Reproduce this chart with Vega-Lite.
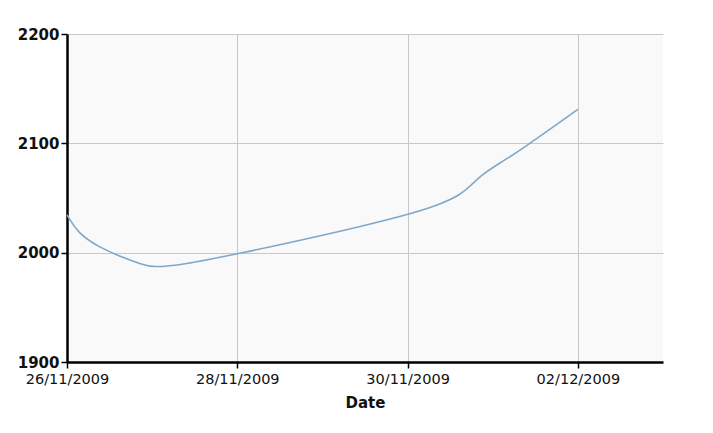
{
  "$schema": "https://vega.github.io/schema/vega-lite/v6.json",
  "autosize": {"type": "none"},
  "padding": {"left": 67, "top": 34, "right": 50, "bottom": 71},
  "width": 596,
  "height": 328,
  "background": "#ffffff",
  "config": {
    "view": {"fill": "#f9f9f9", "stroke": null},
    "font": "DejaVu Sans"
  },
  "data": {
    "values": [
      {"date": "2009-11-26T00:00:00", "value": 2034.5},
      {"date": "2009-11-26T03:00:00", "value": 2018},
      {"date": "2009-11-26T09:00:00", "value": 2005},
      {"date": "2009-11-26T15:00:00", "value": 1996.5},
      {"date": "2009-11-26T21:00:00", "value": 1989.5},
      {"date": "2009-11-27T00:00:00", "value": 1986.5},
      {"date": "2009-11-27T08:00:00", "value": 1988.5},
      {"date": "2009-11-28T00:00:00", "value": 1998.8},
      {"date": "2009-11-29T00:00:00", "value": 2015.5},
      {"date": "2009-11-30T00:00:00", "value": 2034.5},
      {"date": "2009-11-30T09:00:00", "value": 2044},
      {"date": "2009-11-30T15:00:00", "value": 2053},
      {"date": "2009-11-30T18:00:00", "value": 2062},
      {"date": "2009-11-30T21:00:00", "value": 2071.5},
      {"date": "2009-12-01T02:00:00", "value": 2082},
      {"date": "2009-12-01T08:00:00", "value": 2094},
      {"date": "2009-12-02T00:00:00", "value": 2131}
    ]
  },
  "mark": {"type": "line", "color": "#7fa7c9", "strokeWidth": 1.6, "interpolate": "basis"},
  "encoding": {
    "x": {
      "field": "date",
      "type": "temporal",
      "title": "Date",
      "scale": {"domain": [{"year": 2009, "month": 11, "date": 26}, {"year": 2009, "month": 12, "date": 3}]},
      "axis": {
        "values": [
          {"year": 2009, "month": 11, "date": 26},
          {"year": 2009, "month": 11, "date": 28},
          {"year": 2009, "month": 11, "date": 30},
          {"year": 2009, "month": 12, "date": 2}
        ],
        "format": "%d/%m/%Y",
        "domainColor": "#000000",
        "domainWidth": 2.5,
        "tickColor": "#000000",
        "tickWidth": 1.5,
        "tickSize": 6,
        "gridColor": "#c8c8c8",
        "gridWidth": 1,
        "labelFontSize": 14.5,
        "labelColor": "#111111",
        "labelPadding": 4,
        "labelFlush": false,
        "labelOverlap": false,
        "titleFontSize": 15,
        "titleFontWeight": "bold",
        "titleColor": "#111111",
        "titlePadding": 10
      }
    },
    "y": {
      "field": "value",
      "type": "quantitative",
      "title": null,
      "scale": {"domain": [1900, 2200], "nice": false, "zero": false},
      "axis": {
        "values": [1900, 2000, 2100, 2200],
        "format": "d",
        "domainColor": "#000000",
        "domainWidth": 2.5,
        "tickColor": "#000000",
        "tickWidth": 1.5,
        "tickSize": 6,
        "gridColor": "#c8c8c8",
        "gridWidth": 1,
        "labelFontSize": 15,
        "labelFontWeight": "bold",
        "labelColor": "#111111",
        "labelPadding": 2,
        "labelFlush": false
      }
    }
  }
}
